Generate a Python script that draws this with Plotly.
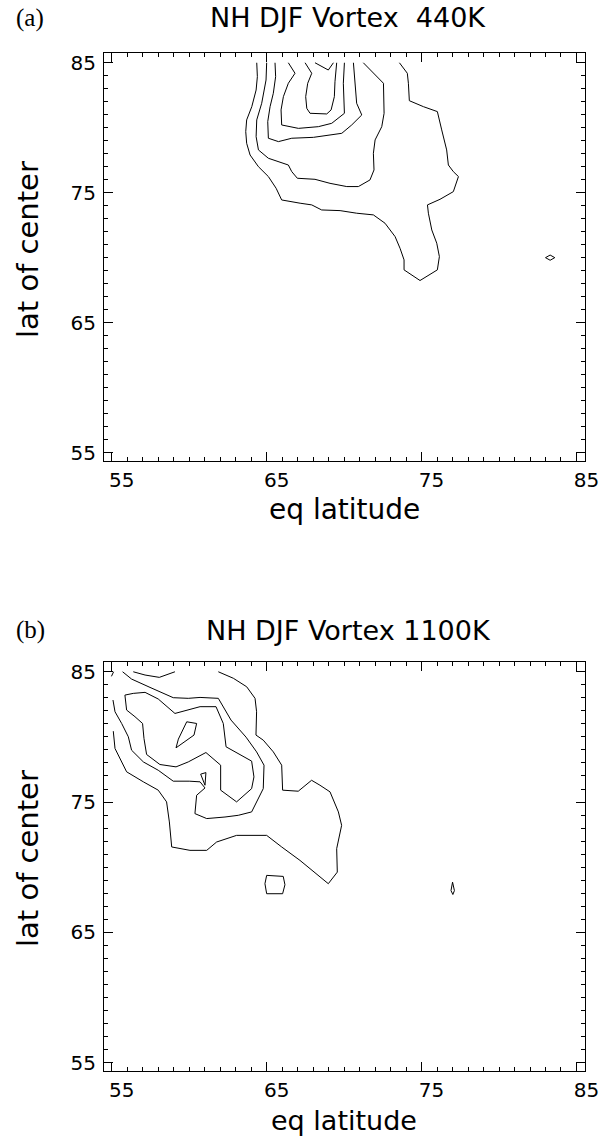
import plotly.graph_objects as go

W, H = 601, 1141

# ---------------- data ----------------
TICK_VALS = [55, 65, 75, 85]
TICK_TEXT = ["55", "65", "75", "85"]
X_RANGE = [54.5, 85.55]
Y_RANGE = [54.35, 85.75]

TITLE_A = "NH DJF Vortex\u00a0\u00a0440K"
TITLE_B = "NH DJF Vortex 1100K"
X_TITLE = "eq latitude"
Y_TITLE = "lat of center"

# panel (a) 440K contours
a1_x = [64.36, 64.40, 64.32, 64.04, 63.71, 63.65, 63.71, 63.93, 64.47, 65.11, 65.61, 65.97, 67.16, 67.91,
        68.55, 69.74, 70.81, 71.89, 72.64, 73.29, 73.61, 73.87, 73.87, 74.90, 76.02, 76.15, 75.98, 75.66,
        75.44, 75.38, 76.19, 77.05, 77.38, 77.05, 76.73, 76.62, 76.30, 76.02, 75.12, 74.21, 74.15, 74.08, 73.57]
a1_y = [85.0, 83.93, 82.90, 81.62, 80.60, 79.70, 78.80, 77.90, 77.0, 76.24, 75.34, 74.44, 74.19, 74.06,
        73.67, 73.62, 73.42, 73.29, 72.65, 71.62, 70.72, 69.83, 69.06, 68.24, 69.06, 70.08, 71.11, 72.13,
        73.42, 74.06, 74.49, 75.08, 76.24, 76.62, 77.13, 78.29, 79.83, 81.24, 81.62, 82.08, 83.42, 84.19, 85.0]
a2_x = [65.0, 64.96, 64.68, 64.36, 64.32, 64.47, 65.11, 66.40, 66.62, 66.98, 68.12, 69.09, 70.17, 70.92,
        71.67, 71.93, 71.89, 72.0, 72.43, 72.58, 72.54, 71.89, 71.24]
a2_y = [85.0, 83.67, 81.88, 80.60, 79.31, 78.29, 77.65, 77.13, 76.62, 76.11, 76.03, 75.72, 75.47, 75.47,
        75.98, 76.75, 78.03, 79.06, 80.08, 81.11, 83.42, 84.19, 85.0]
a3_x = [65.54, 65.58, 65.43, 65.22, 65.07, 65.11, 65.76, 66.62, 68.02, 69.85, 70.49, 71.14, 70.81, 70.71, 70.60]
a3_y = [85.0, 83.93, 82.65, 81.62, 80.47, 79.19, 78.93, 79.19, 79.26, 79.57, 80.21, 80.98, 81.88, 83.42, 85.0]
a4_x = [66.40, 66.83, 66.40, 66.08, 65.93, 65.97, 67.05, 68.34, 69.20, 70.02, 69.95, 70.02]
a4_y = [85.0, 84.19, 83.42, 82.39, 81.37, 80.21, 79.95, 80.08, 80.34, 81.11, 83.42, 85.0]
a5_x = [67.48, 67.91, 67.65, 67.52, 67.59, 67.80, 68.88, 69.16, 69.37, 69.41, 69.52]
a5_y = [85.0, 84.19, 83.42, 82.39, 81.49, 81.11, 81.06, 81.37, 82.39, 83.54, 85.0]
a6_x = [68.12, 68.98, 69.31]
a6_y = [85.0, 84.44, 85.0]
a7_x = [83.0, 83.3, 83.6, 83.3, 83.0]
a7_y = [70.0, 70.2, 70.0, 69.8, 70.0]

# panel (b) 1100K contours
b1_x = [61.88, 62.85, 63.71, 64.25, 64.35, 64.31, 64.78, 65.43, 65.97, 66.03, 67.04, 67.90, 68.44, 69.09,
        69.63, 69.84, 69.52, 69.56, 68.98, 68.33, 67.15, 65.97, 65.00, 63.06, 61.77, 61.13, 60.05, 58.87,
        58.72, 58.54, 58.00, 57.04, 55.96, 55.21, 55.10]
b1_y = [85.0, 84.5, 83.85, 82.96, 81.93, 80.14, 79.75, 78.85, 77.83, 75.91, 75.83, 76.67, 76.29, 75.78,
        74.24, 73.21, 71.42, 69.62, 68.73, 69.37, 70.52, 71.55, 72.44, 72.44, 71.93, 71.29, 71.29, 71.55,
        73.47, 75.01, 75.91, 76.55, 77.32, 79.11, 80.44]
b2_x = [55.08, 55.21, 55.64, 56.07, 56.28, 57.04, 58.00, 58.97, 60.00, 60.70, 61.02, 60.48, 60.37, 61.13,
        62.31, 63.17, 64.03, 64.46, 64.78, 64.83, 64.35, 63.67, 62.70, 61.88, 60.70, 59.94, 58.97, 57.47,
        56.28, 55.70]
b2_y = [82.83, 81.93, 81.03, 80.01, 78.98, 78.08, 77.44, 76.60, 76.60, 76.55, 76.08, 75.52, 74.11, 73.73,
        73.85, 73.98, 74.24, 75.26, 76.03, 77.83, 78.85, 79.98, 81.29, 82.96, 83.03, 82.96, 83.01, 83.80,
        84.44, 85.0]
b3_x = [55.85, 56.39, 57.15, 58.00, 59.08, 59.84, 60.70, 61.73, 62.20, 62.38, 64.03, 64.18, 64.03, 63.06,
        62.03, 62.03, 61.08, 59.94, 59.15, 58.11, 57.25, 57.08, 56.99, 56.50, 55.96, 55.85]
b3_y = [83.21, 83.34, 83.42, 82.91, 81.80, 82.06, 82.32, 82.32, 81.03, 79.24, 78.14, 76.93, 76.03, 75.01,
        75.91, 77.83, 78.80, 78.08, 77.70, 77.88, 78.65, 79.88, 81.03, 81.55, 82.06, 83.21]
b4_x = [59.84, 60.48, 60.31, 59.15, 59.30, 59.84]
b4_y = [81.16, 81.03, 80.14, 79.16, 79.83, 81.16]
b5_x = [60.74, 61.08, 61.02, 60.74]
b5_y = [77.14, 77.26, 76.29, 77.14]
b6_x = [56.39, 57.15, 58.07, 59.08]
b6_y = [85.0, 84.75, 84.57, 85.0]
b7_x = [55.12, 54.98]
b7_y = [85.0, 84.65]
b8_x = [65.0, 66.07, 66.18, 66.03, 65.0, 64.89, 65.0]
b8_y = [69.37, 69.29, 68.65, 67.96, 67.96, 68.73, 69.37]
b9_x = [77.0, 77.12, 77.02, 76.9, 77.0]
b9_y = [68.85, 68.2, 67.9, 68.2, 68.85]

# ---------------- figure ----------------
fig = go.Figure()

def add_line(xs, ys, xa, ya):
    fig.add_trace(go.Scatter(x=xs, y=ys, mode="lines", xaxis=xa, yaxis=ya,
                             line=dict(color="black", width=1), hoverinfo="skip",
                             showlegend=False))

for xs, ys in [(a1_x, a1_y), (a2_x, a2_y), (a3_x, a3_y), (a4_x, a4_y),
               (a5_x, a5_y), (a6_x, a6_y), (a7_x, a7_y)]:
    add_line(xs, ys, "x", "y")
for xs, ys in [(b1_x, b1_y), (b2_x, b2_y), (b3_x, b3_y), (b4_x, b4_y), (b5_x, b5_y),
               (b6_x, b6_y), (b7_x, b7_y), (b8_x, b8_y), (b9_x, b9_y)]:
    add_line(xs, ys, "x2", "y2")

FONT = "DejaVu Sans"
tickfont = dict(family=FONT, size=20, color="black")

def axis_common(rng):
    return dict(range=rng, tickmode="array", tickvals=TICK_VALS, ticktext=TICK_TEXT,
                ticks="inside", ticklen=9, tickwidth=1, tickcolor="black",
                showline=True, linecolor="black", linewidth=1, mirror="ticks",
                showgrid=False, zeroline=False, fixedrange=True, tickfont=tickfont,
                automargin=False, ticklabeloverflow="allow",
                minor=dict(dtick=1, tick0=55, ticks="inside", ticklen=4, tickwidth=1,
                           tickcolor="black", showgrid=False))

xdom = [104 / W, 585 / W]
ya_dom = [1 - 461 / H, 1 - 53 / H]
yb_dom = [1 - 1071 / H, 1 - 662 / H]

fig.update_layout(
    template="none",
    width=W, height=H, margin=dict(l=0, r=0, t=0, b=0, pad=0), autosize=False,
    paper_bgcolor="white", plot_bgcolor="white", showlegend=False,
    xaxis=dict(domain=xdom, anchor="y", ticklabelshift=10, ticklabelstandoff=1, **axis_common(X_RANGE)),
    yaxis=dict(domain=ya_dom, anchor="x", ticklabelstandoff=3, **axis_common(Y_RANGE)),
    xaxis2=dict(domain=xdom, anchor="y2", ticklabelshift=10, ticklabelstandoff=1, **axis_common(X_RANGE)),
    yaxis2=dict(domain=yb_dom, anchor="x2", ticklabelstandoff=3, **axis_common(Y_RANGE)),
)

def ann(text, px, py, size, family=FONT, angle=0):
    fig.add_annotation(text=text, x=px / W, y=1 - py / H, xref="paper", yref="paper",
                       xanchor="center", yanchor="middle", showarrow=False, textangle=angle,
                       font=dict(family=family, size=size, color="black"))

ann("(a)", 30, 18, 25, family="Liberation Serif")
ann(TITLE_A, 348, 18, 27)
ann(X_TITLE, 344, 510, 28)
ann(Y_TITLE, 28, 250, 29, angle=-90)

ann("(b)", 30, 630, 25, family="Liberation Serif")
ann(TITLE_B, 348, 630, 27)
ann(X_TITLE, 344, 1120, 27)
ann(Y_TITLE, 28, 859, 29, angle=-90)

fig.write_html("out.html", config={"displayModeBar": False, "staticPlot": True},
               post_script="document.body.style.margin='0';document.body.style.overflow='hidden';")
